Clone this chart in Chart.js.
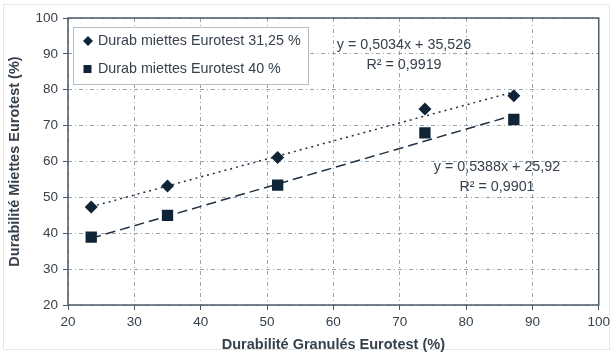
<!DOCTYPE html>
<html><head><meta charset="utf-8">
<script src="https://cdn.jsdelivr.net/npm/chart.js@4.4.1/dist/chart.umd.min.js"></script>
<style>
html,body{margin:0;padding:0;background:#fff;}
#wrap{position:relative;width:614px;height:354px;}
#frame{position:absolute;left:3px;top:4px;width:607px;height:346px;border:1px solid #e4e6e8;box-sizing:border-box;}
canvas{position:absolute;left:0;top:0;}
</style></head>
<body><div id="wrap"><div id="frame"></div><canvas id="c" width="614" height="354"></canvas></div>
<script>
const seriesNames = ["Durab miettes Eurotest 31,25 %", "Durab miettes Eurotest 40 %"];
const granules = [23.5, 35, 51.6, 73.8, 87.2];
const miettes3125 = [47.3, 53.2, 61.1, 74.6, 78.3];
const miettes40 = [38.9, 45.0, 53.4, 68.0, 71.7];
const trendX = [23.5, 87.2];
const trend3125 = [47.4, 79.4];
const trend40 = [38.6, 72.9];
const eq1 = ["y = 0,5034x + 35,526", "R² = 0,9919"];
const eq2 = ["y = 0,5388x + 25,92", "R² = 0,9901"];
const xTitle = "Durabilité Granulés Eurotest (%)";
const yTitle = "Durabilité Miettes Eurotest (%)";

const pts = (xs, ys) => xs.map((x, i) => ({x, y: ys[i]}));
const ink = '#0f2436';
const txt = '#36414c';
const FONT = "'Liberation Sans', Arial, sans-serif";

const overlay = {
  id: 'overlay',
  afterDatasetsDraw(chart) {
    const ctx = chart.ctx;
    ctx.save();
    ctx.fillStyle = '#fff';
    ctx.fillRect(73.5, 27.5, 235, 57);
    ctx.strokeStyle = '#b4bcc4'; ctx.lineWidth = 1;
    ctx.strokeRect(73.5, 27.5, 235, 57);
    ctx.fillStyle = ink;
    ctx.beginPath(); ctx.moveTo(88, 36); ctx.lineTo(93, 41); ctx.lineTo(88, 46); ctx.lineTo(83, 41); ctx.closePath(); ctx.fill();
    ctx.fillRect(83.5, 65, 8, 8);
    ctx.font = '14.3px ' + FONT; ctx.fillStyle = txt; ctx.textBaseline = 'middle'; ctx.textAlign = 'left';
    ctx.fillText(seriesNames[0], 98, 41.5);
    ctx.fillText(seriesNames[1], 98, 69.5);
    ctx.textAlign = 'center';
    ctx.fillText(eq1[0], 404, 45);
    ctx.fillText(eq1[1], 404, 65);
    ctx.fillText(eq2[0], 497, 167);
    ctx.fillText(eq2[1], 497, 187);
    ctx.strokeStyle = '#4b5a67'; ctx.lineWidth = 1.5;
    const a = chart.chartArea;
    ctx.strokeRect(a.left, a.top, a.right - a.left, a.bottom - a.top);
    ctx.restore();
  }
};

const gridOpts = {color: '#98a2ac', lineWidth: 1, tickColor: '#4b5a67', tickLength: 5, tickBorderDash: []};
const borderOpts = {display: false, dash: [4, 3, 1, 3]};

new Chart(document.getElementById('c'), {
  type: 'scatter',
  data: {
    datasets: [
      {label: seriesNames[0], data: pts(granules, miettes3125), pointStyle: 'rectRot', pointRadius: 6.5, pointBackgroundColor: ink, pointBorderColor: ink, pointBorderWidth: 0, showLine: false, order: 1},
      {label: seriesNames[1], data: pts(granules, miettes40), pointStyle: 'rect', pointRadius: 8, pointBackgroundColor: ink, pointBorderColor: ink, pointBorderWidth: 0, showLine: false, order: 1},
      {label: 'trend1', data: pts(trendX, trend3125), showLine: true, pointRadius: 0, borderColor: '#1f3040', borderWidth: 1.5, borderDash: [2, 4], order: 2},
      {label: 'trend2', data: pts(trendX, trend40), showLine: true, pointRadius: 0, borderColor: '#1f3040', borderWidth: 1.5, borderDash: [10, 5], order: 2}
    ]
  },
  options: {
    responsive: false, animation: false,
    layout: {padding: {left: 6, right: 10, top: 18, bottom: 0}},
    plugins: {legend: {display: false}, tooltip: {enabled: false}},
    scales: {
      x: {
        type: 'linear', min: 20, max: 100,
        ticks: {stepSize: 10, color: txt, font: {family: FONT, size: 13.5}, padding: 4, maxRotation: 0},
        grid: gridOpts,
        border: borderOpts,
        title: {display: true, text: xTitle, color: txt, font: {family: FONT, size: 14.5, weight: 'bold'}, padding: {top: 4, bottom: 0}},
        afterFit(s) { s.height = 49; }
      },
      y: {
        type: 'linear', min: 20, max: 100,
        ticks: {stepSize: 10, color: txt, font: {family: FONT, size: 13.5}, padding: 5},
        grid: gridOpts,
        border: borderOpts,
        title: {display: true, text: yTitle, color: txt, font: {family: FONT, size: 14.5, weight: 'bold'}, padding: {top: 0, bottom: 4}},
        afterFit(s) { s.width = 62; }
      }
    }
  },
  plugins: [overlay]
});
</script></body></html>
